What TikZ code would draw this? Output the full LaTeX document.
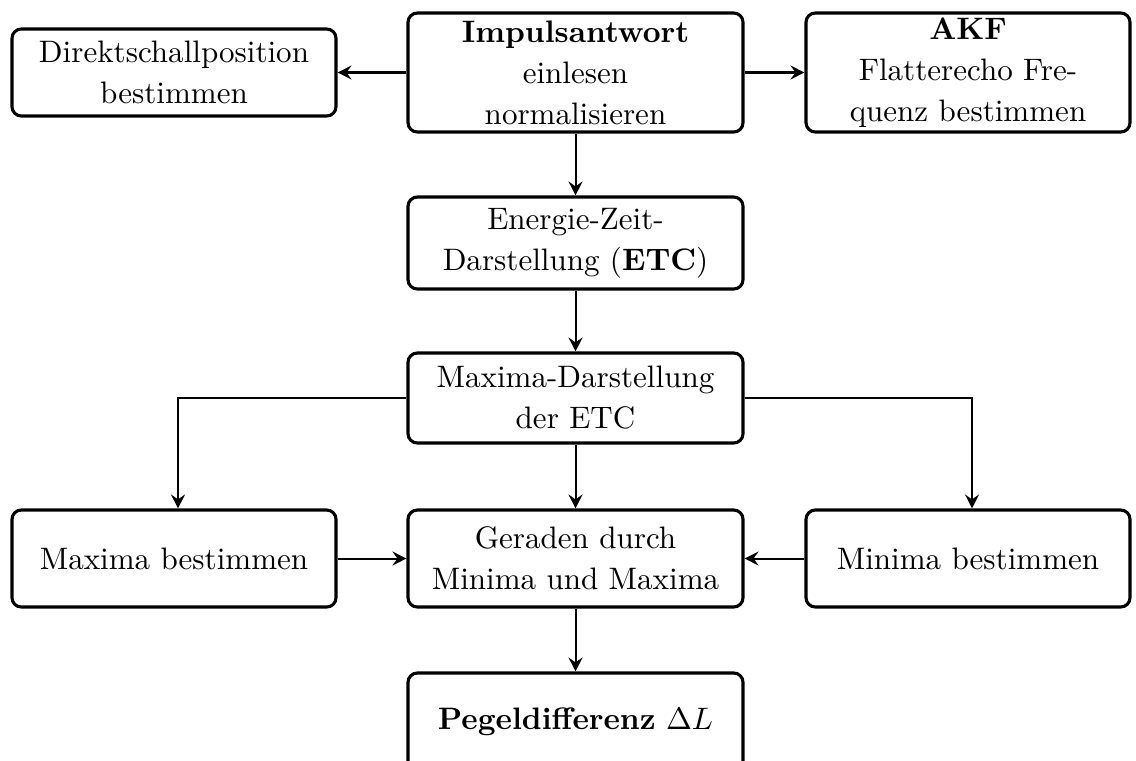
\documentclass[tikz,border=0pt]{standalone}
\usetikzlibrary{arrows.meta}
\begin{document}
\begin{tikzpicture}[x=0.322pt,y=-0.322pt,
  box/.style={draw, line width=1pt, rounded corners=3pt, align=center, inner sep=0pt,
    font=\linespread{1.1}\selectfont},
  wbox/.style={box, minimum width=335*0.322pt},
  sbox/.style={box, minimum width=324*0.322pt},
  arr/.style={-{Stealth[length=4.5pt,width=4.5pt,inset=1.6pt]}, line width=0.65pt}]
\useasboundingbox (0,0) rectangle (1136,760);
\node[wbox, minimum height=119*0.322pt] (imp) at (575.5,72.5) {\textbf{Impulsantwort}\\einlesen\\normalisieren};
\node[sbox, minimum height=87*0.322pt] (dir) at (174,72.5) {Direktschallposition\\bestimmen};
\node[sbox, minimum height=119*0.322pt] (akf) at (968,72.5) {\textbf{AKF}\\Flatterecho Fre-\\quenz bestimmen};
\node[wbox, minimum height=92*0.322pt] (etc) at (575.5,243) {Energie-Zeit-\\Darstellung (\textbf{ETC})};
\node[wbox, minimum height=90*0.322pt] (max) at (575.5,398) {Maxima-Darstellung\\der ETC};
\node[sbox, minimum height=97*0.322pt] (mb) at (174,558.5) {Maxima bestimmen};
\node[wbox, minimum height=97*0.322pt] (ger) at (575.5,558.5) {Geraden durch\\Minima und Maxima};
\node[sbox, minimum height=97*0.322pt] (mib) at (968,558.5) {Minima bestimmen};
\node[wbox, minimum height=98*0.322pt] (peg) at (575.5,722) {\textbf{Pegeldifferenz} $\Delta L$};
\draw[arr] (imp.west) -- (dir.east);
\draw[arr] (imp.east) -- (akf.west);
\draw[arr] (imp.south) -- (etc.north);
\draw[arr] (etc.south) -- (max.north);
\draw[arr] (max.west) -| ([xshift=4*0.322pt]mb.north);
\draw[arr] (max.east) -| ([xshift=4*0.322pt]mib.north);
\draw[arr] (max.south) -- (ger.north);
\draw[arr] (mb.east) -- (ger.west);
\draw[arr] (mib.west) -- (ger.east);
\draw[arr] (ger.south) -- (peg.north);
\end{tikzpicture}
\end{document}
